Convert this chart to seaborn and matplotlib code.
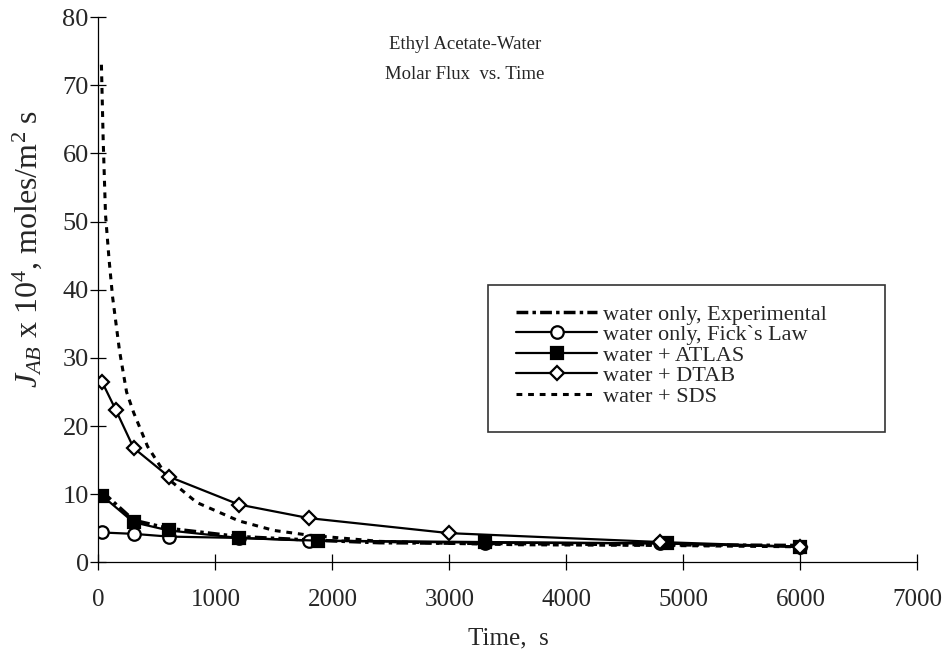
import matplotlib
matplotlib.use("Agg")
import matplotlib.pyplot as plt
import seaborn as sns
from matplotlib.patches import Rectangle

# values (time in s, flux x 10^4)
t_exp = [30, 300, 600, 1200, 1800, 2400, 3300, 4800, 6000]
j_exp = [10.4, 6.2, 5.0, 3.8, 3.3, 2.9, 2.8, 2.6, 2.5]

t_fick = [30, 300, 600, 1200, 1800, 3300, 4800, 6000]
j_fick = [4.4, 4.2, 3.8, 3.6, 3.2, 2.9, 2.8, 2.3]

t_atlas = [30, 300, 600, 1200, 1880, 3300, 4860, 6000]
j_atlas = [9.8, 5.9, 4.7, 3.6, 3.2, 3.0, 2.8, 2.3]

t_dtab = [30, 150, 300, 600, 1200, 1800, 3000, 4800, 6000]
j_dtab = [26.5, 22.3, 16.8, 12.6, 8.5, 6.5, 4.3, 3.0, 2.3]

t_sds = [25, 40, 60, 90, 120, 180, 240, 300, 420, 600, 840, 1200, 1500,
         1800, 2400, 3000, 3600, 4800, 6000]
j_sds = [73, 62, 51, 44.5, 39, 31, 25, 22, 17, 12.2, 8.8, 6.1, 4.7,
         4.0, 3.1, 2.8, 2.6, 2.5, 2.3]

labels = ["water only, Experimental", "water only, Fick`s Law",
          "water + ATLAS", "water + DTAB", "water + SDS"]
x_ticks = [0, 1000, 2000, 3000, 4000, 5000, 6000, 7000]
y_ticks = [0, 10, 20, 30, 40, 50, 60, 70, 80]

sns.set_theme(style="white")
plt.rcParams["font.family"] = ["Liberation Serif", "DejaVu Serif"]
plt.rcParams["mathtext.fontset"] = "custom"
plt.rcParams["mathtext.rm"] = "Liberation Serif"
plt.rcParams["mathtext.it"] = "Liberation Serif:italic"

fig = plt.figure(figsize=(9.48, 6.49), dpi=100)
ax = fig.add_axes([0.1039, 0.1333, 0.8639, 0.8405])

solid = dict(color="black", linewidth=1.6, markeredgecolor="black",
             markeredgewidth=1.6)
sns.lineplot(x=t_sds, y=j_sds, ax=ax, color="black", linewidth=2.2,
             linestyle=(0, (1.9, 1.9)), label=labels[4])
sns.lineplot(x=t_exp, y=j_exp, ax=ax, color="black", linewidth=2.5,
             linestyle=(0, (3.4, 1.2, 1.0, 1.2)), label=labels[0])
sns.lineplot(x=t_fick, y=j_fick, ax=ax, marker="o", markersize=9,
             markerfacecolor="white", label=labels[1], **solid)
sns.lineplot(x=t_atlas, y=j_atlas, ax=ax, marker="s", markersize=8,
             markerfacecolor="black", label=labels[2], **solid)
sns.lineplot(x=t_dtab, y=j_dtab, ax=ax, marker="D", markersize=7.5,
             markerfacecolor="white", label=labels[3], **solid)

ax.set_xlim(0, 7000)
ax.set_ylim(0, 80)
ax.set_xticks(x_ticks)
ax.set_yticks(y_ticks)
ax.tick_params(axis="both", direction="inout", length=12, width=0.9,
               color="black", left=True, bottom=True)
ax.tick_params(axis="x", labelsize=18, pad=13)
ax.tick_params(axis="y", labelsize=19, pad=1)
for side in ["top", "right"]:
    ax.spines[side].set_visible(False)
for side in ["left", "bottom"]:
    ax.spines[side].set_color("black")
    ax.spines[side].set_linewidth(0.9)

ax.set_xlabel("Time,  s", fontsize=18)
ax.xaxis.set_label_coords(0.5, -0.12)
ax.set_ylabel(r"$J_{AB}$ x 10$^4$, moles/m$^2$ s", fontsize=23)
ax.yaxis.set_label_coords(-0.066, 0.575)

ax.text(0.4475, 0.95, "Ethyl Acetate-Water", transform=ax.transAxes,
        ha="center", va="center", fontsize=13.5)
ax.text(0.4475, 0.895, "Molar Flux  vs. Time", transform=ax.transAxes,
        ha="center", va="center", fontsize=13.5)

handles, hl = ax.get_legend_handles_labels()
order = [hl.index(lab) for lab in labels]
leg = ax.legend([handles[i] for i in order], labels, loc="upper left",
                bbox_to_anchor=(516 / 948, 1 - 304 / 649),
                bbox_transform=fig.transFigure, borderaxespad=0,
                borderpad=0, frameon=False, fontsize=16,
                labelspacing=0.0, handlelength=81 / 22.2,
                handletextpad=0.25)

fig.patches.append(Rectangle((488 / 948, 1 - 432 / 649), 397 / 948,
                             147 / 649, transform=fig.transFigure,
                             fill=False, edgecolor="#333333", linewidth=1.2))

fig.savefig("out.png", dpi=100)
